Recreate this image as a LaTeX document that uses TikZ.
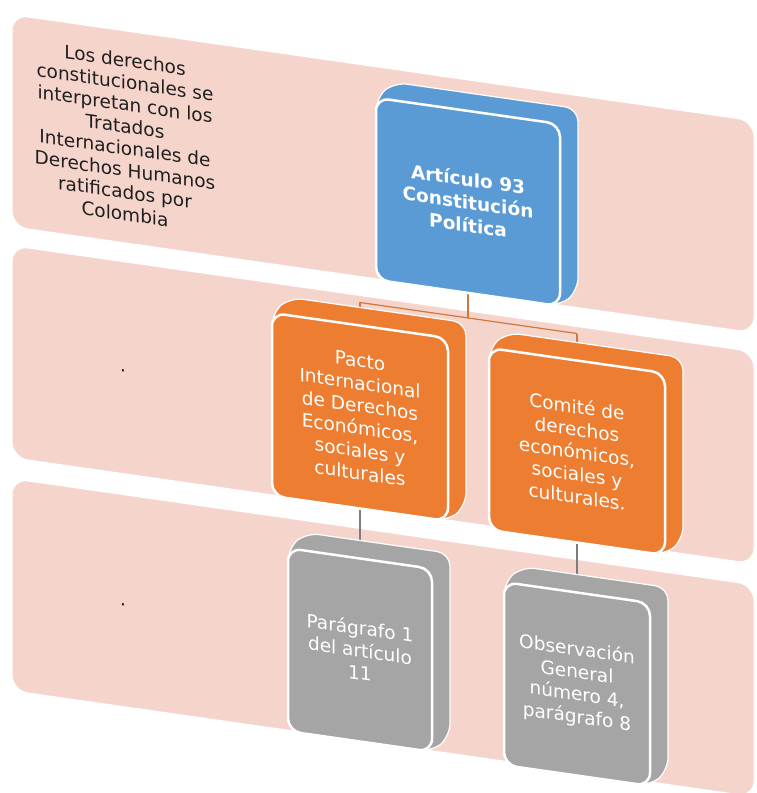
\documentclass[tikz,border=0pt]{standalone}
\usepackage{fontspec}
\setmainfont{DejaVu Sans}
\definecolor{bandc}{RGB}{245,212,203}
\definecolor{bluec}{RGB}{91,155,213}
\definecolor{orangec}{RGB}{237,125,49}
\definecolor{grayc}{RGB}{165,165,165}
\definecolor{connO}{RGB}{212,118,58}
\definecolor{connG}{RGB}{125,125,125}
\pgfdeclarelayer{bands}
\pgfdeclarelayer{links}
\pgfsetlayers{bands,links,main}
\tikzset{
  band/.style={fill=bandc, draw=white, line width=1pt, rounded corners=16pt},
  face/.style={draw=white, line width=2.5pt, rounded corners=13pt, inner sep=0pt,
    align=center, text=white, font=\fontsize{18.5}{22.5}\selectfont},
  depth/.style={draw=white, line width=1.2pt, rounded corners=13pt},
  lbl/.style={align=center, text=black!88, inner sep=0pt, font=\fontsize{18.5}{22}\selectfont},
  link/.style={line width=1.2pt}
}
% #1 name, #2 x1, #3 y1, #4 x2, #5 y2, #6 colour, #7 text, #8 font
\newcommand\cubebox[8]{%
  \filldraw[depth, fill=#6] (#2,#5) -- (#2,#3) -- (#2+18,#3-18) -- (#4+18,#3-18)
     -- (#4+18,#5-18) -- (#4,#5) -- cycle;
  \node[face, fill=#6, minimum width={(#4)-(#2)}, minimum height={(#5)-(#3)}, #8]
     (#1) at ({((#2)+(#4))/2},{((#3)+(#5))/2}) {#7};
}
\begin{document}
\begin{tikzpicture}[x=1pt, y=-1pt]
\useasboundingbox (0,0) rectangle (756,793);
\begin{scope}[yslant=-0.143, transform shape]
  \begin{pgfonlayer}{bands}
    \path[band] (12,13) rectangle (754,225);
    \path[band] (12,244) rectangle (754,456);
    \path[band] (12,477) rectangle (754,689);
  \end{pgfonlayer}
  \node[lbl] (lab1) at (125,119) {Los derechos\\constitucionales se\\interpretan con los\\Tratados\\Internacionales de\\Derechos Humanos\\ratificados por\\Colombia};
  \node[lbl] (lab2) at (123,353) {.};
  \node[lbl] (lab3) at (123,587) {.};

  \cubebox{a93}{376}{44}{560}{226}{bluec}{Artículo 93\\Constitución\\Política}{font=\fontsize{18.5}{23}\selectfont\bfseries}
  \cubebox{pacto}{272}{274}{448}{457}{orangec}{Pacto\\Internacional\\de Derechos\\Económicos,\\sociales y\\culturales}{}
  \cubebox{comite}{489}{278}{665}{460}{orangec}{Comité de\\derechos\\económicos,\\sociales y\\culturales.}{}
  \cubebox{par}{288}{507}{432}{690}{grayc}{Parágrafo 1\\del artículo\\11}{}
  \cubebox{obs}{504}{510}{650}{693}{grayc}{Observación\\General\\número 4,\\parágrafo 8}{}

  \coordinate (jc) at (468,251);
  \coordinate (jl) at (360,251);
  \coordinate (jr) at (577,251);
  \begin{pgfonlayer}{links}
    \draw[link, connO] (a93.south) -- (jc);
    \draw[link, connO] (jl) -- (jr);
    \draw[link, connO] (jl) -- (pacto.north);
    \draw[link, connO] (jr) -- (comite.north);
    \draw[link, connG] (pacto.south) -- (par.north);
    \draw[link, connG] (comite.south) -- (obs.north);
  \end{pgfonlayer}
\end{scope}
\end{tikzpicture}
\end{document}
